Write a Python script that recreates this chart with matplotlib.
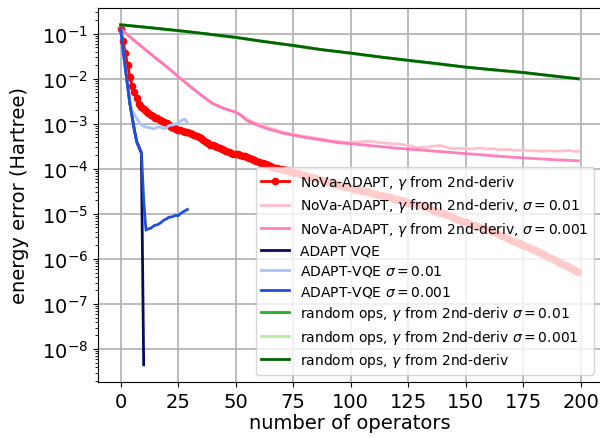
import numpy as np
import matplotlib
matplotlib.use("Agg")
from matplotlib import pyplot as plt
from matplotlib.ticker import MultipleLocator

# values, stored as log10(energy error)

# NoVa-ADAPT, gamma from 2nd-deriv (one point per operator, 0..199)
nova_log = [
    -0.89, -1.15, -1.42, -1.70, -1.95, -2.17, -2.30, -2.43, -2.55, -2.63,
    -2.68, -2.72, -2.76, -2.80, -2.83, -2.86, -2.88, -2.91, -2.93, -2.96,
    -2.99, -3.02, -3.06, -3.09, -3.11, -3.13, -3.14, -3.16, -3.17, -3.19,
    -3.21, -3.23, -3.25, -3.27, -3.29, -3.32, -3.36, -3.40, -3.43, -3.46,
    -3.48, -3.50, -3.52, -3.54, -3.56, -3.58, -3.60, -3.62, -3.64, -3.66,
    -3.67, -3.68, -3.69, -3.71, -3.72, -3.73, -3.75, -3.77, -3.80, -3.82,
    -3.84, -3.86, -3.88, -3.90, -3.92, -3.94, -3.96, -3.98, -3.99, -4.00,
    -4.01, -4.02, -4.03, -4.05, -4.06, -4.07, -4.09, -4.10, -4.11, -4.13,
    -4.14, -4.16, -4.17, -4.18, -4.20, -4.21, -4.23, -4.24, -4.25, -4.27,
    -4.28, -4.30, -4.31, -4.33, -4.34, -4.35, -4.37, -4.38, -4.40, -4.41,
    -4.42, -4.44, -4.45, -4.46, -4.47, -4.48, -4.50, -4.51, -4.52, -4.53,
    -4.55, -4.56, -4.57, -4.58, -4.60, -4.61, -4.62, -4.63, -4.65, -4.66,
    -4.67, -4.69, -4.70, -4.72, -4.73, -4.75, -4.76, -4.78, -4.79, -4.80,
    -4.81, -4.83, -4.84, -4.85, -4.87, -4.89, -4.91, -4.93, -4.95, -4.97,
    -4.99, -5.01, -5.03, -5.05, -5.07, -5.09, -5.11, -5.13, -5.15, -5.17,
    -5.19, -5.20, -5.22, -5.24, -5.26, -5.27, -5.29, -5.31, -5.32, -5.34,
    -5.36, -5.38, -5.41, -5.43, -5.45, -5.47, -5.50, -5.52, -5.54, -5.56,
    -5.59, -5.61, -5.63, -5.65, -5.67, -5.70, -5.72, -5.74, -5.76, -5.78,
    -5.80, -5.83, -5.85, -5.88, -5.90, -5.93, -5.96, -5.98, -6.01, -6.03,
    -6.06, -6.08, -6.11, -6.13, -6.16, -6.18, -6.21, -6.24, -6.27, -6.30,
]

# NoVa-ADAPT sigma = 0.01 (noisy)
nova01_x = [0, 5, 10, 15, 20, 25, 30, 35, 40, 45, 50, 52, 55, 58, 61, 64, 67,
            70, 73, 76, 79, 82, 85, 88, 91, 94, 96, 98, 100, 102, 104, 106,
            109, 111, 113, 116, 118, 121, 123, 125, 127, 129, 131, 133, 135,
            137, 139, 141, 143, 145, 147, 149, 151, 153, 155, 157, 159, 161,
            163, 165, 167, 169, 171, 173, 175, 177, 179, 181, 183, 185, 187,
            189, 191, 193, 195, 197, 199]
nova01_log = [-0.89, -1.11, -1.32, -1.53, -1.73, -1.95, -2.16, -2.36, -2.55,
              -2.66, -2.74, -2.79, -2.90, -2.97, -3.02, -3.08, -3.12, -3.18,
              -3.21, -3.24, -3.27, -3.29, -3.32, -3.34, -3.37, -3.39, -3.40,
              -3.41, -3.42, -3.40, -3.40, -3.39, -3.39, -3.40, -3.42, -3.43,
              -3.44, -3.45, -3.46, -3.48, -3.50, -3.53, -3.52, -3.53, -3.50,
              -3.49, -3.48, -3.51, -3.54, -3.55, -3.54, -3.55, -3.55, -3.56,
              -3.54, -3.54, -3.56, -3.55, -3.56, -3.58, -3.57, -3.57, -3.59,
              -3.58, -3.59, -3.59, -3.60, -3.60, -3.61, -3.60, -3.60, -3.61,
              -3.60, -3.60, -3.59, -3.61, -3.61]

# NoVa-ADAPT sigma = 0.001
nova001_x = [0, 5, 10, 15, 20, 25, 30, 35, 40, 45, 50, 52, 55, 60, 65, 70, 75,
             80, 85, 90, 95, 100, 110, 120, 130, 140, 150, 160, 170, 180, 190,
             199]
nova001_log = [-0.89, -1.11, -1.32, -1.53, -1.73, -1.95, -2.16, -2.36, -2.55,
               -2.66, -2.74, -2.80, -2.93, -3.04, -3.13, -3.20, -3.25, -3.30,
               -3.34, -3.38, -3.42, -3.44, -3.49, -3.54, -3.58, -3.62, -3.66,
               -3.70, -3.74, -3.77, -3.80, -3.82]

# ADAPT VQE (exact), operators 0..10
adapt_log = [-0.89, -1.33, -1.75, -2.15, -2.55, -2.85, -3.15, -3.40, -3.52,
             -3.66, -8.35]

# ADAPT-VQE sigma = 0.01, operators 0..29
adapt01_log = [-0.89, -1.33, -1.75, -2.15, -2.50, -2.72, -2.80, -2.88, -2.97,
               -3.02, -3.05, -3.07, -3.08, -3.09, -3.11, -3.10, -3.07, -3.07,
               -3.09, -3.11, -3.08, -3.04, -3.03, -3.02, -3.00, -2.99, -2.94,
               -2.91, -2.90, -2.98]

# ADAPT-VQE sigma = 0.001, operators 0..29
adapt001_log = [-0.89, -1.33, -1.75, -2.15, -2.55, -2.85, -3.15, -3.40, -3.52,
                -3.63, -4.70, -5.36, -5.33, -5.32, -5.28, -5.25, -5.24, -5.21,
                -5.17, -5.13, -5.11, -5.07, -5.07, -5.05, -5.03, -5.04, -4.99,
                -4.96, -4.93, -4.90]

# random ops
rand_x = [0, 10, 25, 37, 50, 62, 75, 87, 100, 112, 125, 137, 150, 162, 175,
          187, 199]
rand01_log = [-0.80, -0.85, -0.93, -1.00, -1.08, -1.17, -1.26, -1.35, -1.43,
              -1.51, -1.59, -1.66, -1.74, -1.80, -1.86, -1.93, -2.00]
rand001_log = [-0.80, -0.85, -0.94, -1.01, -1.09, -1.17, -1.27, -1.35, -1.44,
               -1.51, -1.60, -1.67, -1.74, -1.81, -1.87, -1.93, -2.00]
rand_log = [-0.80, -0.85, -0.93, -1.00, -1.08, -1.17, -1.26, -1.35, -1.43,
            -1.51, -1.59, -1.66, -1.74, -1.80, -1.86, -1.93, -2.00]


def steps(n):
    return np.arange(n)


def energy(vals):
    return 10.0 ** np.array(vals)


fig = plt.figure(figsize=(6.0, 4.39), dpi=100)
ax = fig.add_axes([0.163, 0.128, 0.839, 0.852])

lw = 2
ax.plot(steps(len(nova_log)), energy(nova_log), ".-", color="red", lw=lw,
        markersize=9, label=r"NoVa-ADAPT, $\gamma$ from 2nd-deriv")
ax.plot(nova01_x, energy(nova01_log), color="pink", lw=lw,
        label=r"NoVa-ADAPT, $\gamma$ from 2nd-deriv, $\sigma=0.01$")
ax.plot(nova001_x, energy(nova001_log), color="hotpink", lw=lw, alpha=0.85,
        label=r"NoVa-ADAPT, $\gamma$ from 2nd-deriv, $\sigma=0.001$")
ax.plot(steps(len(adapt_log)), energy(adapt_log), color="#0a0a60", lw=lw,
        label="ADAPT VQE")
ax.plot(steps(len(adapt01_log)), energy(adapt01_log), color="#a8c4f8", lw=lw,
        label=r"ADAPT-VQE $\sigma=0.01$")
ax.plot(steps(len(adapt001_log)), energy(adapt001_log), color="#1f4fd8", lw=lw,
        label=r"ADAPT-VQE $\sigma=0.001$")
ax.plot(rand_x, energy(rand01_log), color="#22b022", lw=lw,
        label=r"random ops, $\gamma$ from 2nd-deriv $\sigma=0.01$")
ax.plot(rand_x, energy(rand001_log), color="#b4f0a0", lw=lw,
        label=r"random ops, $\gamma$ from 2nd-deriv $\sigma=0.001$")
ax.plot(rand_x, energy(rand_log), color="darkgreen", lw=lw,
        label=r"random ops, $\gamma$ from 2nd-deriv")

ax.set_yscale("log")
ax.xaxis.set_major_locator(MultipleLocator(25))
ax.grid(True, which="major", color="#b0b0b0", lw=1.2)
ax.set_axisbelow(True)
ax.tick_params(labelsize=14)
ax.set_xlabel("number of operators", fontsize=14, labelpad=2)
ax.set_ylabel("energy error (Hartree)", fontsize=14, labelpad=9)
ax.legend(loc="lower right", fontsize=10, labelspacing=0.4)

fig.savefig("out.png", dpi=100)
